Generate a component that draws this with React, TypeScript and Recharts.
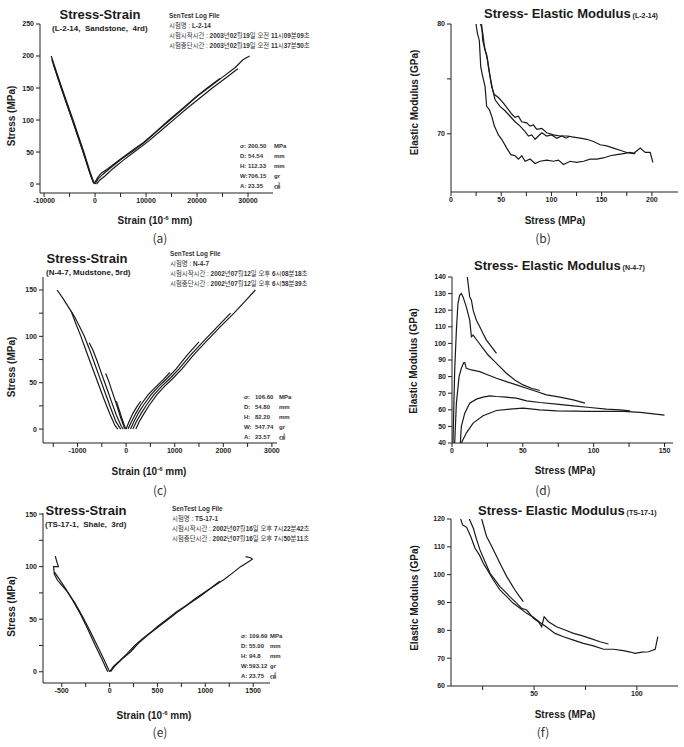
import React from 'react';
import { LineChart, Line, XAxis, YAxis } from 'recharts';

const SANS = "'Liberation Sans', Arial, 'Noto Sans CJK KR', sans-serif";
const KR = "'Noto Sans CJK KR', 'Liberation Sans', sans-serif";

// ---------- (a) L-2-14 stress-strain ----------
const aLeft1 = [[0, 0], [-400, 6], [-900, 17], [-1500, 32], [-2200, 50], [-3300, 76], [-4400, 102], [-5500, 127], [-6600, 152], [-7600, 176], [-8600, 200]];
const aLeft2 = [[-150, 0], [-600, 8], [-1100, 19], [-1700, 34], [-2400, 51], [-3500, 77], [-4600, 103], [-5700, 128], [-6800, 154], [-7800, 178], [-8500, 195]];
const aLeft3 = [[-300, 2], [-800, 12], [-1300, 24], [-2000, 42], [-3000, 66], [-4000, 90], [-5200, 117], [-6300, 143], [-7400, 168], [-8200, 188]];
const aRight1 = [[0, 0], [600, 8], [1500, 15], [3000, 25], [5000, 38], [7500, 52], [10000, 67], [12500, 85], [15000, 102], [17500, 119], [20000, 137], [22500, 152], [25000, 167], [27500, 182], [29000, 194], [30300, 200]];
const aRight2 = [[300, 0], [900, 6], [2000, 13], [3500, 24], [5500, 37], [8000, 52], [10500, 67], [13000, 84], [15500, 101], [18000, 118], [20500, 134], [23000, 150], [25500, 165], [28000, 180]];
const aRight3 = [[0, 3], [500, 10], [1200, 17], [2500, 24], [4500, 36], [7000, 51], [9500, 65], [12000, 82], [14500, 100], [17000, 117], [19500, 134], [22000, 150], [24500, 165]];
const aTicksX = [-10000, -5000, 0, 5000, 10000, 15000, 20000, 25000, 30000];
const aTicksY = [0, 50, 100, 150, 200, 250];
const aInfo = ['SenTest Log File', '시험명 : L-2-14', '시험시작시간 : 2003년02월19일 오전 11시09분09초', '시험중단시간 : 2003년02월19일 오전 11시37분50초'];
const aStats = [['σ:', '200.50', 'MPa'], ['D:', '54.54', 'mm'], ['H:', '112.33', 'mm'], ['W:', '706.15', 'gr'], ['A:', '23.35', '㎠']];

// ---------- (b) L-2-14 elastic modulus ----------
const bLower = [[24.9, 80], [26.2, 79.2], [28.2, 78.5], [29.6, 76.1], [31.6, 75.2], [33.9, 74.3], [35.5, 72.5], [38.2, 72.2], [40.5, 71.6], [43.2, 70.7], [47.2, 69.9], [50.5, 69.5], [55.5, 68.7], [59.5, 68.1], [63.8, 68.0], [67.1, 67.7], [70.4, 68.0], [73.8, 67.5], [78.7, 67.7], [83.7, 67.3], [88.7, 67.5], [95.3, 67.6], [102, 67.5], [107, 67.6], [112, 67.2], [118.6, 67.5], [125, 67.4], [132, 67.5], [138.5, 67.7], [145, 67.7], [151.8, 67.8], [158.5, 68.0], [165, 68.1], [171.8, 68.2], [178.4, 68.3], [183.4, 68.2]];
const bUpper = [[28.9, 80], [30.6, 79.9], [31.6, 78.5], [33.9, 77.6], [35.5, 77.2], [37.2, 76.1], [38.9, 75.2], [40.5, 74.3], [42.9, 73.6], [47.2, 73.3], [52.2, 72.8], [57.1, 72.2], [60.5, 71.8], [63.8, 71.5], [67.1, 71.6], [70.4, 71.1], [75.4, 71.0], [78.7, 70.7], [82.1, 70.8], [85.4, 70.4], [90.4, 70.5], [95.3, 70.1], [102, 69.9], [108.6, 69.8], [115.3, 69.8], [122, 69.7], [128.6, 69.6], [135.2, 69.5], [141.9, 69.3], [148.5, 69.0], [155, 68.9], [161.8, 68.7], [168.4, 68.5], [175, 68.3], [181.7, 68.2], [188.4, 68.7], [193.4, 68.3], [198.3, 68.3], [201, 67.4]];
const bMiddle = [[29.6, 80], [31.6, 79.2], [33.2, 78.0], [34.9, 77.3], [36.5, 76.7], [38.9, 75.2], [41.5, 74.0], [43.9, 73.1], [48.8, 72.5], [53.8, 72.1], [58.8, 71.6], [63.8, 71.1], [68.8, 70.7], [73.8, 70.2], [77.1, 69.8], [80.4, 69.9], [83.7, 69.5], [87, 69.8], [90.4, 70.1], [95.3, 69.8], [100.3, 69.9], [105.3, 69.6], [110.3, 69.8], [114.6, 69.6], [118.6, 69.8]];
const bTicksX = [0, 25, 50, 75, 100, 125, 150, 175, 200];
const bTicksY = [70, 75, 80];

// ---------- (c) N-4-7 stress-strain ----------
const cL5 = [[-1420, 150], [-1300, 141], [-1130, 127], [-1030, 113], [-930, 100], [-820, 84], [-700, 67], [-580, 50], [-460, 33], [-340, 17], [-230, 4], [-170, 0]];
const cL4 = [[-1130, 127], [-1050, 120], [-960, 111], [-860, 100], [-760, 87], [-650, 71], [-540, 55], [-430, 39], [-320, 23], [-210, 8], [-110, 0]];
const cL3 = [[-760, 93], [-690, 86], [-600, 74], [-500, 59], [-410, 46], [-310, 31], [-200, 15], [-100, 3], [-60, 0]];
const cL2 = [[-420, 60], [-360, 52], [-290, 41], [-200, 27], [-110, 12], [-40, 2], [-20, 0]];
const cL1 = [[-200, 30], [-150, 22], [-90, 12], [-30, 3], [0, 0]];
const cR1 = [[0, 0], [60, 8], [140, 17], [220, 24], [300, 30]];
const cR2 = [[40, 0], [110, 8], [200, 17], [300, 26], [450, 37], [600, 45], [760, 53], [900, 61]];
const cR3 = [[90, 0], [160, 8], [250, 17], [360, 26], [510, 37], [670, 46], [830, 54], [1030, 65], [1260, 80], [1500, 94]];
const cR4 = [[140, 0], [210, 8], [310, 17], [420, 26], [570, 37], [730, 46], [890, 54], [1090, 65], [1330, 80], [1580, 94], [1870, 110], [2150, 125]];
const cR5 = [[200, 0], [270, 8], [370, 17], [480, 26], [630, 37], [790, 46], [950, 54], [1150, 65], [1390, 80], [1640, 94], [1930, 110], [2220, 125], [2450, 138], [2660, 150]];
const cTicksX = [-1500, -1000, -500, 0, 500, 1000, 1500, 2000, 2500, 3000];
const cTicksY = [0, 25, 50, 75, 100, 125, 150];
const cInfo = ['SenTest Log File', '시험명 : N-4-7', '시험시작시간 : 2002년07월12일 오후 6시08분18초', '시험중단시간 : 2002년07월12일 오후 6시58분39초'];
const cStats = [['σ:', '106.60', 'MPa'], ['D:', '54.80', 'mm'], ['H:', '82.20', 'mm'], ['W:', '547.74', 'gr'], ['A:', '23.57', '㎠']];

// ---------- (d) N-4-7 elastic modulus ----------
const dA = [[10.8, 140], [12.5, 128], [13.7, 126], [14.9, 120], [17.2, 114], [19.6, 110], [21.9, 106], [24.3, 102], [27.8, 98], [31.4, 94]];
const dB = [[0.7, 40], [1.9, 84], [3.1, 108], [4.2, 124], [5.4, 129], [6.6, 130], [7.8, 128], [10.1, 122], [12.5, 114], [13.7, 104], [14.9, 105], [18.4, 101], [21.9, 97], [25.5, 93], [30.2, 89], [33.7, 86], [38.4, 82], [44.3, 78], [50.2, 75], [56.1, 73], [62, 71.6]];
const dC = [[1.9, 40], [3.1, 64], [5, 80], [6.6, 85], [8.3, 88.4], [9, 88.4], [10.1, 85], [13.7, 84], [19.6, 83], [25.5, 81], [31.4, 79], [38.4, 77], [45.5, 75], [52.6, 73], [59.7, 71], [66.7, 69], [76.2, 67.6], [85.6, 66], [93.9, 64]];
const dD = [[5.9, 40], [6.6, 50], [9, 58], [12.5, 64], [17.2, 66.4], [21.9, 67.6], [26.7, 68.4], [31.4, 68], [38.4, 67.6], [45.5, 67], [52.6, 65.4], [62, 64.4], [73.8, 63.4], [85.6, 62.4], [97.4, 61.4], [109, 60.4], [118.6, 60], [125.7, 59.4]];
const dE = [[6.6, 40], [10.1, 46], [14.9, 52], [21.9, 56.4], [31.4, 59.6], [40.8, 60.4], [50.2, 61], [62, 60], [73.8, 59.4], [85.6, 59.2], [97.4, 59], [109, 59], [121, 59], [132.8, 58.4], [142.2, 57.6], [150, 56.8]];
const dTicksX = [0, 25, 50, 75, 100, 125, 150];
const dTicksY = [40, 50, 60, 70, 80, 90, 100, 110, 120, 130, 140];

// ---------- (e) TS-17-1 stress-strain ----------
const eLeft1 = [[0, 0], [-60, 12], [-130, 25], [-200, 38], [-280, 52], [-360, 65], [-440, 76], [-545, 87], [-578, 93], [-585, 100], [-535, 100], [-553, 105], [-567, 110]];
const eLeft2 = [[-20, 0], [-80, 12], [-150, 25], [-225, 40], [-300, 54], [-380, 67], [-460, 79], [-540, 90], [-578, 95]];
const eRight1 = [[0, 0], [40, 5], [100, 10], [180, 17], [263, 25], [350, 32], [450, 39], [500, 43], [600, 50], [700, 57], [800, 63], [900, 70], [1000, 76], [1100, 82], [1200, 88], [1300, 95], [1368, 100], [1440, 104], [1491, 107], [1474, 108.5], [1421, 109.5]];
const eRight2 = [[10, 0], [60, 6], [130, 12], [220, 19], [300, 27], [400, 35], [500, 42], [600, 49], [700, 56], [820, 64], [950, 72], [1050, 79], [1150, 86]];
const eTicksX = [-500, -250, 0, 250, 500, 750, 1000, 1250, 1500];
const eTicksY = [0, 25, 50, 75, 100, 125, 150];
const eInfo = ['SenTest Log File', '시험명 : TS-17-1', '시험시작시간 : 2002년07월16일 오후 7시22분42초', '시험중단시간 : 2002년07월16일 오후 7시50분11초'];
const eStats = [['σ:', '109.69', 'MPa'], ['D:', '55.00', 'mm'], ['H:', '94.8', 'mm'], ['W:', '593.12', 'gr'], ['A:', '23.75', '㎠']];

// ---------- (f) TS-17-1 elastic modulus ----------
const f1 = [[24.5, 120], [26.9, 113.7], [29.5, 110], [31.8, 106.5], [34.5, 102.5], [36.7, 99.3], [38.8, 96.8], [40.7, 94.5], [42.8, 92.3], [44.8, 90.3]];
const f2 = [[18.5, 120], [20.5, 116.6], [22.1, 112.5], [23.7, 108.9], [26.1, 104.7], [28.6, 100.5], [31, 98.1], [33.4, 95.7], [35.9, 93.9], [38.3, 92], [41.6, 89.7], [44, 87.9], [46.4, 87.3], [49.7, 84.3], [52.1, 83.1], [53.7, 81.3], [54.9, 84.9], [57, 83.1], [60.9, 81.3], [65.1, 80.1], [69.2, 78.9], [73.2, 78.1], [77.3, 77.1], [82.1, 75.9], [86.2, 75.1]];
const f3 = [[14.3, 120], [15.3, 117.8], [17.2, 117], [19.2, 113.7], [21.3, 109.5], [23.4, 107.1], [25.3, 104.1], [27.8, 101.1], [30.2, 98.1], [33.4, 94.5], [36.7, 92.1], [39.9, 89.7], [43.2, 87.9], [46.4, 86.1], [49.7, 84.7], [52.9, 82.8], [56.2, 81.1], [60.2, 78.9], [64.3, 77.7], [69.2, 76.5], [74, 75.3], [78.9, 74.4], [83.8, 73.2], [88.6, 73.2], [93.5, 72.7], [96.8, 72.2], [99.2, 71.7], [102.4, 72.2], [105.7, 72.3], [108.9, 73.2], [110.2, 77.7]];
const fTicksX = [25, 50, 75, 100];
const fTicksY = [60, 70, 80, 90, 100, 110, 120];

const YW = 32;
const MT = 8;
const MR = 6;
const XH = 18;
const tickStyle = { fontSize: 7, fontWeight: 700, fill: '#222', fontFamily: SANS };

const toPts = (arr: number[][]) => arr.map(([x, y]) => ({ x, y }));
const isMajor = (v: number, step: number) => Math.abs(v % step) < 1e-9;

function Plot({ box, xDomain, yDomain, xTicks, yTicks, xStep, yStep, series }: any) {
  const [L, T, R, B] = box;
  return (
    <div style={{ position: 'absolute', left: L - YW, top: T - MT }}>
      <LineChart width={R - L + YW + MR} height={B - T + MT + XH} margin={{ top: MT, right: MR, left: 0, bottom: 0 }}>
        <XAxis
          type="number"
          dataKey="x"
          domain={xDomain}
          ticks={xTicks}
          interval={0}
          allowDataOverflow
          height={XH}
          tickSize={4}
          tickMargin={1}
          stroke="#222"
          tick={tickStyle}
          tickFormatter={(v: number) => (isMajor(v, xStep) ? String(v) : '')}
        />
        <YAxis
          type="number"
          dataKey="y"
          domain={yDomain}
          ticks={yTicks}
          interval={0}
          allowDataOverflow
          width={YW}
          tickSize={4}
          tickMargin={2}
          stroke="#222"
          tick={tickStyle}
          tickFormatter={(v: number) => (isMajor(v, yStep) ? String(v) : '')}
        />
        {series.map((s: number[][], i: number) => (
          <Line key={i} data={toPts(s)} dataKey="y" type="linear" dot={false} stroke="#1a1a1a" strokeWidth={1.2} isAnimationActive={false} />
        ))}
      </LineChart>
    </div>
  );
}

// text helpers, y is the visual centre of the text
const Txt = ({ x, y, size, weight = 700, anchor = 'start', family = SANS, fill = '#1a1a1a', children, pre }: any) => (
  <text x={x} y={y + 0.35 * size} fontSize={size} fontWeight={weight} textAnchor={anchor} fontFamily={family} fill={fill} style={pre ? { whiteSpace: 'pre' } : undefined}>
    {children}
  </text>
);

const VTxt = ({ x, y, size, children }: any) => (
  <text x={x} y={y + 0.35 * size} fontSize={size} fontWeight={700} textAnchor="middle" fontFamily={SANS} fill="#1a1a1a" transform={`rotate(-90 ${x} ${y})`}>
    {children}
  </text>
);

const mixed = (s: string) =>
  s.split(/([0-9A-Za-z.\-]+)/).map((p, i) => (
    <tspan key={i} fontWeight={/[0-9A-Za-z]/.test(p) ? 700 : 400}>{p}</tspan>
  ));

const Info = ({ x, ys, lines }: any) => (
  <>
    {lines.map((l: string, i: number) => (
      <Txt key={i} x={x} y={ys[i]} size={6.4} fill="#333">{i === 0 ? l : mixed(l)}</Txt>
    ))}
  </>
);

const Stats = ({ xs, ys, rows }: any) => (
  <>
    {rows.map((r: string[], i: number) => (
      <g key={i}>
        <Txt x={xs[0]} y={ys[i]} size={6} fill="#333">{r[0]}</Txt>
        <Txt x={xs[1]} y={ys[i]} size={6} fill="#333">{r[1]}</Txt>
        <Txt x={xs[2]} y={ys[i]} size={6} fill="#333">{r[2]}</Txt>
      </g>
    ))}
  </>
);

const StrainLabel = ({ x, y }: any) => (
  <text x={x} y={y + 3.5} fontSize={10} fontWeight={700} textAnchor="middle" fontFamily={SANS} fill="#1a1a1a">
    Strain (10<tspan fontSize={6} dy={-4}>-6</tspan><tspan dy={4}> mm)</tspan>
  </text>
);

const ModTitle = ({ x, y, id }: any) => (
  <text x={x} y={y + 4.6} fontSize={13} fontWeight={700} fontFamily={SANS} fill="#1a1a1a">
    Stress- Elastic Modulus<tspan fontSize={7}> ({id})</tspan>
  </text>
);

export default function App() {
  return (
    <div style={{ position: 'absolute', left: 0, top: 0, width: 684, height: 747, background: '#fff' }}>
      <Plot box={[40, 24, 273, 193]} xDomain={[-10800, 34900]} yDomain={[-14, 250]} xTicks={aTicksX} yTicks={aTicksY} xStep={10000} yStep={50}
        series={[aLeft1, aLeft2, aLeft3, aRight1, aRight2, aRight3]} />
      <Plot box={[451, 24, 678, 192]} xDomain={[0, 226]} yDomain={[64.7, 80]} xTicks={bTicksX} yTicks={bTicksY} xStep={50} yStep={10}
        series={[bLower, bUpper, bMiddle]} />
      <Plot box={[43, 277, 277, 443]} xDomain={[-1710, 3105]} yDomain={[-15, 164]} xTicks={cTicksX} yTicks={cTicksY} xStep={1000} yStep={50}
        series={[cL5, cL4, cL3, cL2, cL1, cR1, cR2, cR3, cR4, cR5]} />
      <Plot box={[452, 277, 673, 443]} xDomain={[0, 156]} yDomain={[40, 140]} xTicks={dTicksX} yTicks={dTicksY} xStep={50} yStep={10}
        series={[dA, dB, dC, dD, dE]} />
      <Plot box={[43, 513, 270, 683]} xDomain={[-696, 1676]} yDomain={[-10.7, 151]} xTicks={eTicksX} yTicks={eTicksY} xStep={500} yStep={50}
        series={[eLeft1, eLeft2, eRight1, eRight2]} />
      <Plot box={[451, 519, 678, 686]} xDomain={[9.6, 120]} yDomain={[60, 120]} xTicks={fTicksX} yTicks={fTicksY} xStep={50} yStep={10}
        series={[f1, f2, f3]} />

      <svg width={684} height={747} style={{ position: 'absolute', left: 0, top: 0, pointerEvents: 'none' }}>
        {/* (a) */}
        <Txt x={100} y={14.5} size={13} anchor="middle">Stress-Strain</Txt>
        <Txt x={52} y={28.3} size={8} pre>(L-2-14,  Sandstone,  4rd)</Txt>
        <Info x={169} ys={[15.7, 25.7, 35.3, 45.7]} lines={aInfo} />
        <Stats xs={[240, 248, 274]} ys={[145.7, 155.7, 165.7, 175.7, 185.7]} rows={aStats} />
        <VTxt x={11} y={116} size={10}>Stress (MPa)</VTxt>
        <StrainLabel x={155} y={220.7} />
        <Txt x={160} y={239} size={12} weight={400} anchor="middle" family={KR} fill="#333">(a)</Txt>

        {/* (b) */}
        <ModTitle x={484} y={13.3} id="L-2-14" />
        <VTxt x={414} y={102.5} size={10}>Elastic Modulus (GPa)</VTxt>
        <Txt x={555} y={220.7} size={10} anchor="middle">Stress (MPa)</Txt>
        <Txt x={543} y={239} size={12} weight={400} anchor="middle" family={KR} fill="#333">(b)</Txt>

        {/* (c) */}
        <Txt x={87} y={258} size={13} anchor="middle">Stress-Strain</Txt>
        <Txt x={46} y={272.3} size={8}>(N-4-7, Mudstone, 5rd)</Txt>
        <Info x={170} ys={[254, 263.3, 273.7, 283.7]} lines={cInfo} />
        <Stats xs={[244, 255, 279]} ys={[397.3, 407.3, 417.3, 427.3, 437.3]} rows={cStats} />
        <VTxt x={11} y={367} size={10}>Stress (MPa)</VTxt>
        <StrainLabel x={149} y={471.7} />
        <Txt x={160} y={491} size={12} weight={400} anchor="middle" family={KR} fill="#333">(c)</Txt>

        {/* (d) */}
        <ModTitle x={474} y={265.3} id="N-4-7" />
        <VTxt x={413} y={361} size={10}>Elastic Modulus (GPa)</VTxt>
        <Txt x={565} y={470} size={10} anchor="middle">Stress (MPa)</Txt>
        <Txt x={543} y={491} size={12} weight={400} anchor="middle" family={KR} fill="#333">(d)</Txt>

        {/* (e) */}
        <Txt x={86} y={510} size={13} anchor="middle">Stress-Strain</Txt>
        <Txt x={45} y={524} size={8} pre>(TS-17-1,  Shale,  3rd)</Txt>
        <Info x={172} ys={[509, 519, 528.7, 539]} lines={eInfo} />
        <Stats xs={[241, 249, 270]} ys={[636, 646, 656, 666, 676]} rows={eStats} />
        <VTxt x={11} y={606.5} size={10}>Stress (MPa)</VTxt>
        <StrainLabel x={154} y={715.7} />
        <Txt x={160} y={733} size={12} weight={400} anchor="middle" family={KR} fill="#333">(e)</Txt>

        {/* (f) */}
        <ModTitle x={478} y={510} id="TS-17-1" />
        <VTxt x={414} y={598} size={10}>Elastic Modulus (GPa)</VTxt>
        <Txt x={565} y={714} size={10} anchor="middle">Stress (MPa)</Txt>
        <Txt x={543} y={733} size={12} weight={400} anchor="middle" family={KR} fill="#333">(f)</Txt>
      </svg>
    </div>
  );
}
